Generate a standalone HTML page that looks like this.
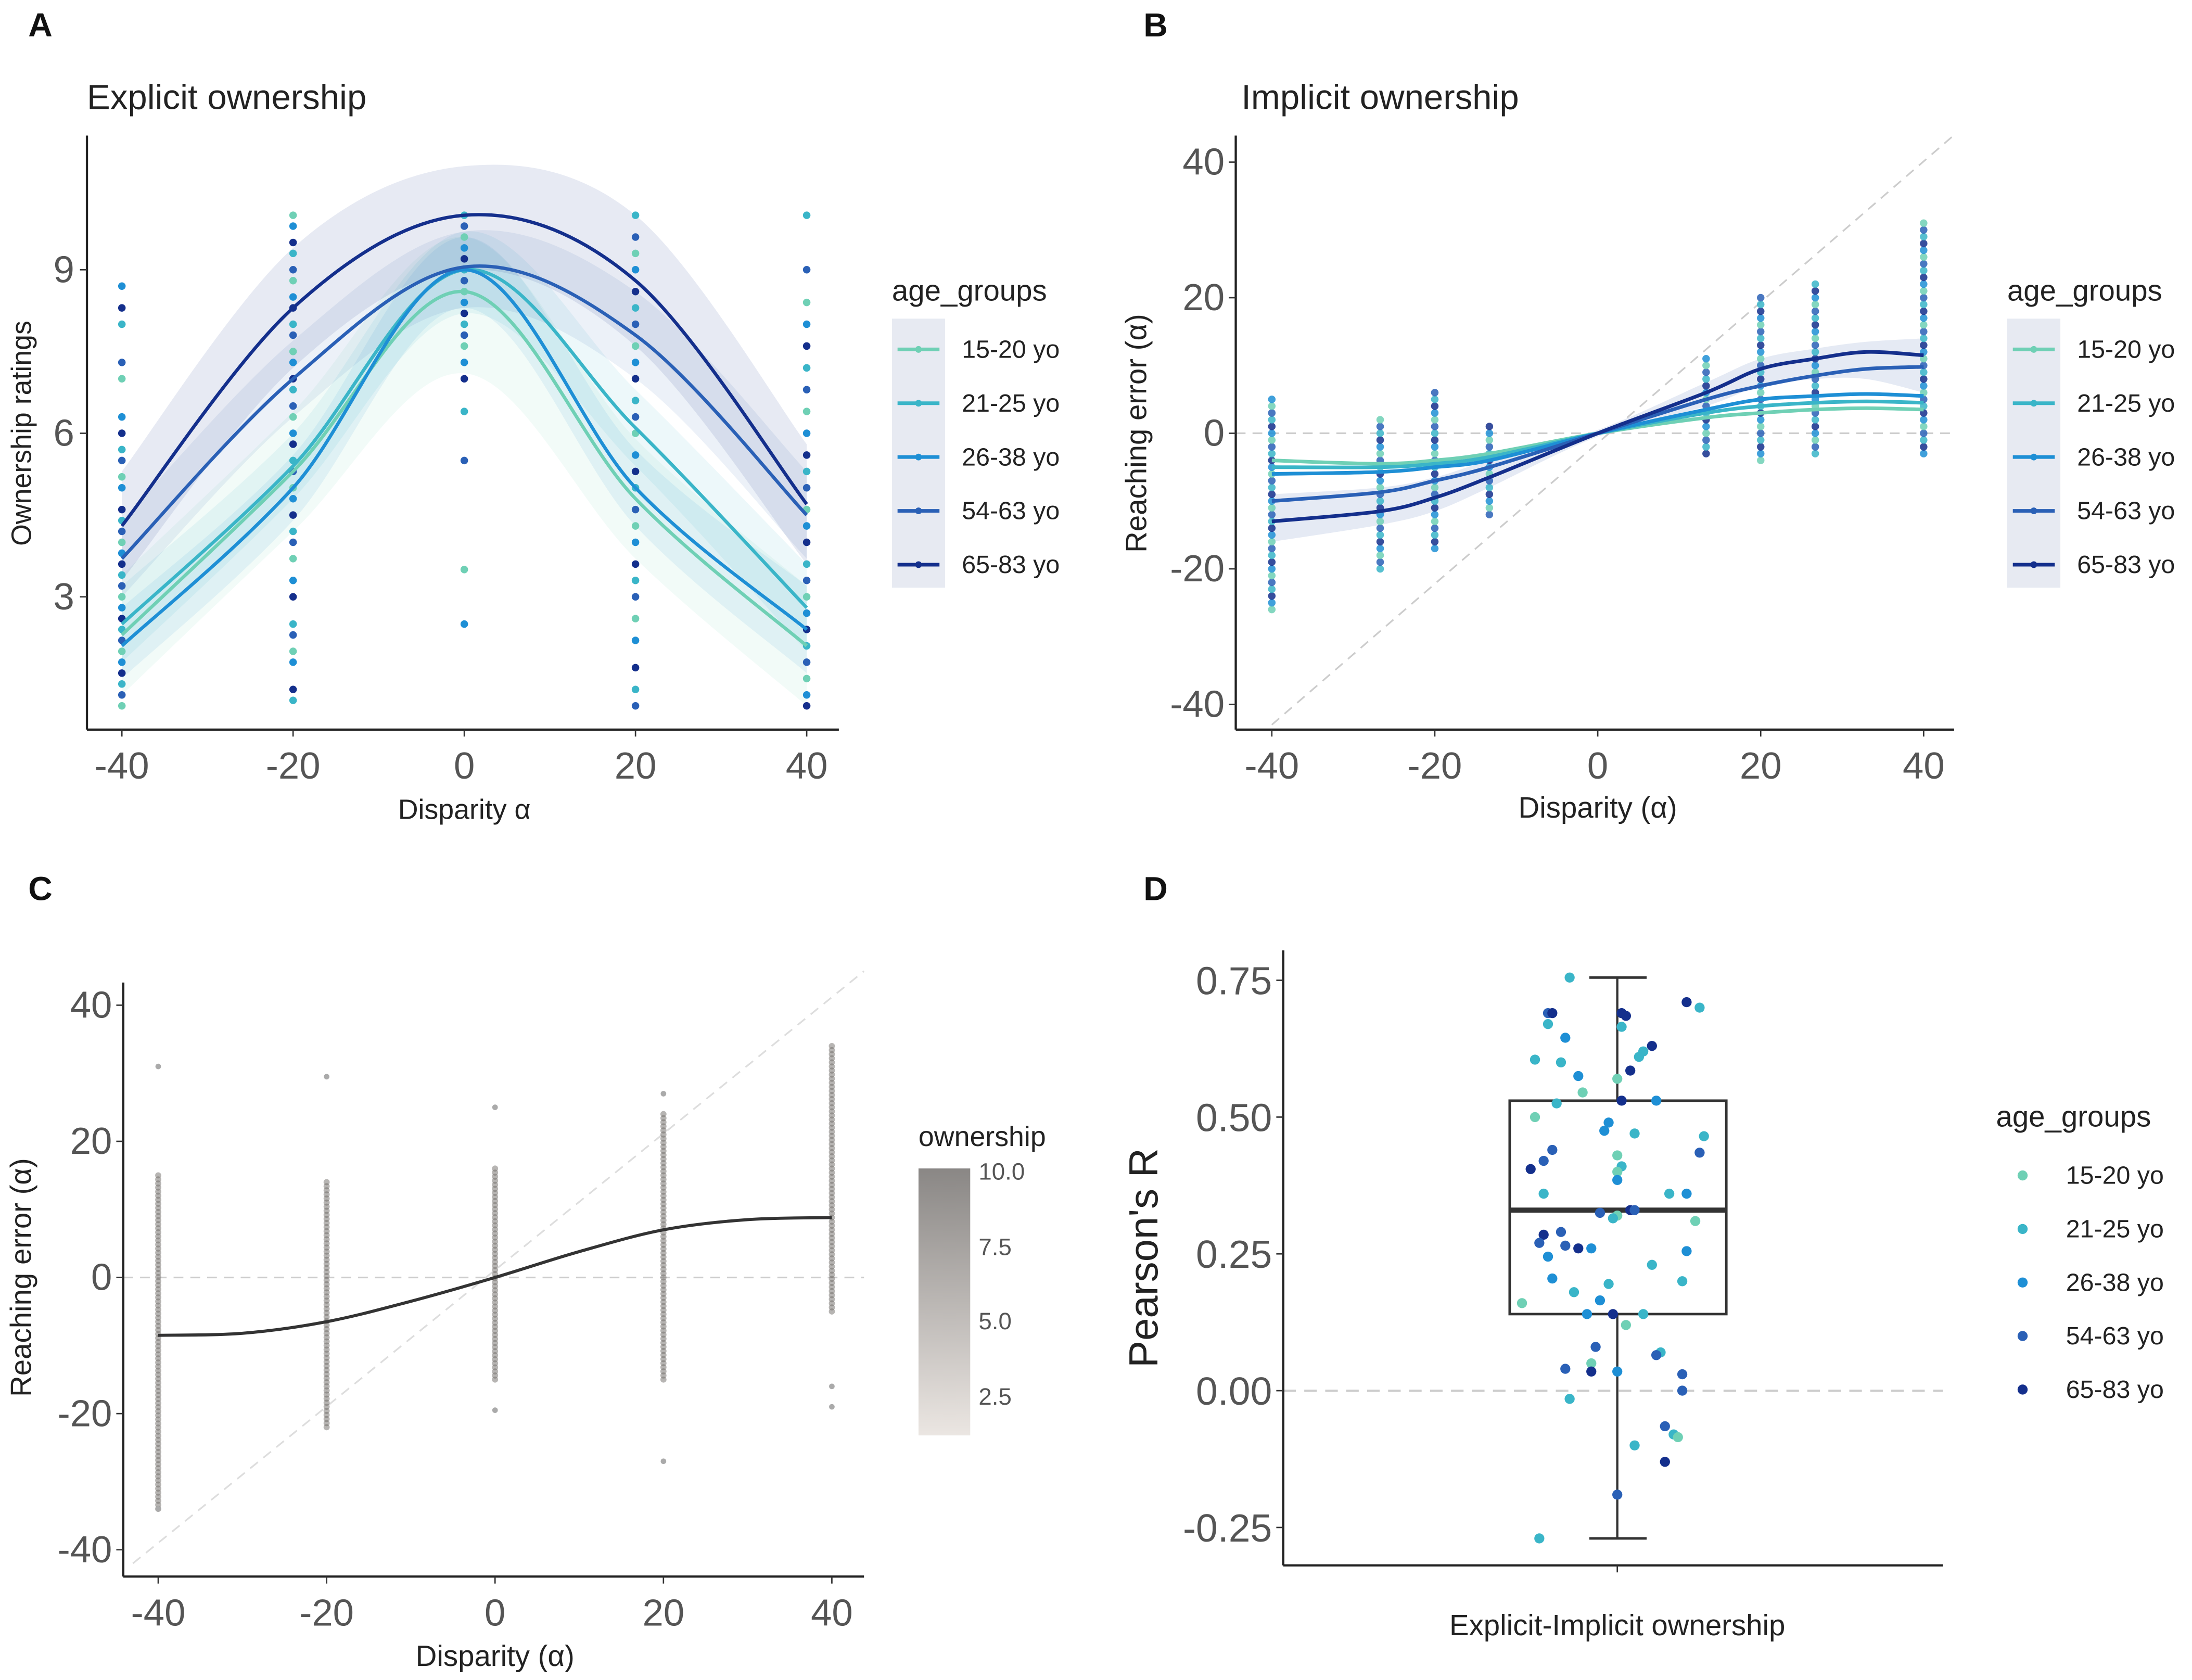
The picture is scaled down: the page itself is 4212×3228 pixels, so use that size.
<!DOCTYPE html>
<html><head><meta charset="utf-8"><style>
html,body{margin:0;padding:0;background:#fff;}
svg{display:block;font-family:"Liberation Sans",Arial,sans-serif;}
</style></head><body>
<svg id="fig" xmlns="http://www.w3.org/2000/svg" width="4212" height="3228" viewBox="0 0 1568 1202">
<rect width="1568" height="1202" fill="#fff"/>
<defs>
<linearGradient id="gradC" x1="0" y1="1" x2="0" y2="0"><stop offset="0" stop-color="#ebe6e2"/><stop offset="1" stop-color="#8a8785"/></linearGradient>
</defs>
<g font-weight="bold" font-size="24" fill="#111">
<text x="20" y="26">A</text>
<text x="818" y="26">B</text>
<text x="20" y="644">C</text>
<text x="818" y="644">D</text>
</g>
<text x="62" y="78" font-size="25" fill="#222">Explicit ownership</text>
<text x="888" y="78" font-size="25" fill="#222">Implicit ownership</text>
<g id="root"></g>
</svg>
<script>
const NS="http://www.w3.org/2000/svg";
const root=document.getElementById('root');
function mk(tag,attrs,parent){const e=document.createElementNS(NS,tag);for(const k in attrs)e.setAttribute(k,attrs[k]);(parent||root).appendChild(e);return e;}
function smooth(pts){let d='M'+pts[0][0]+','+pts[0][1];for(let i=0;i<pts.length-1;i++){const p0=pts[i-1]||pts[i],p1=pts[i],p2=pts[i+1],p3=pts[i+2]||p2;const c1=[p1[0]+(p2[0]-p0[0])/6,p1[1]+(p2[1]-p0[1])/6],c2=[p2[0]-(p3[0]-p1[0])/6,p2[1]-(p3[1]-p1[1])/6];d+=' C'+c1+' '+c2+' '+p2;}return d;}

/* ---------- data ---------- */
const groups=['15-20 yo','21-25 yo','26-38 yo','54-63 yo','65-83 yo'];
const groupColors=['#6fd0b5','#3ab5c8','#1e8fd5','#2a60b6','#142f8c'];

// Panel A
const aX=[-40,-20,0,20,40];
const aMean=[[2.3,5.3,8.6,4.8,2.1],[2.5,5.4,9.0,6.1,2.8],[2.1,5.0,9.0,5.0,2.4],[3.7,7.0,9.05,7.8,4.5],[4.3,8.3,10.0,8.8,4.7]];
const aLow=[[1.2,4.2,7.1,3.7,1.0],[1.8,4.8,8.2,5.4,2.0],[1.5,4.4,8.3,4.3,1.6],[3.0,6.3,8.3,7.0,3.7],[3.3,7.2,9.0,7.6,3.6]];
const aHigh=[[3.4,6.4,9.6,5.9,3.2],[3.2,6.0,9.7,6.8,3.6],[2.8,5.6,9.6,5.7,3.2],[4.4,7.7,9.7,8.6,5.3],[5.3,9.4,10.9,10.0,5.8]];
const aDots=[
 [1,1.2,1.4,1.6,1.8,2,2.2,2.4,2.6,2.8,3,3.2,3.4,3.6,3.8,4,4.2,4.4,4.6,5,5.2,5.5,5.7,6,6.3,7,7.3,8,8.3,8.7],
 [1.1,1.3,1.8,2,2.3,2.5,3,3.3,3.7,4,4.2,4.5,4.8,5,5.3,5.5,5.8,6,6.3,6.5,6.8,7,7.3,7.5,7.8,8,8.3,8.5,8.8,9,9.3,9.5,9.8,10],
 [2.5,3.5,5.5,6.4,7,7.3,7.6,7.8,8,8.2,8.4,8.6,8.8,9,9.2,9.4,9.6,9.8,10],
 [1,1.3,1.7,2.2,2.6,3,3.3,3.6,4,4.3,4.6,5,5.3,5.6,6,6.3,6.6,7,7.3,7.6,8,8.3,8.6,9,9.3,9.6,10],
 [1,1.2,1.5,1.8,2.1,2.4,2.7,3,3.3,3.6,4,4.3,4.6,5,5.3,5.6,6,6.4,6.8,7.2,7.6,8,8.4,9,10]];
const aYTicks=[3,6,9];

// Panel B
const bX=[-40,-26.7,-20,-13.3,0,13.3,20,26.7,33,40];
const bMean=[[-4,-4.5,-4,-3,0,2.3,3,3.5,3.7,3.5],[-5,-5,-4.5,-3.5,0,3,4,4.5,4.7,4.5],[-6,-5.7,-5,-4,0,3.5,5,5.5,5.8,5.5],[-10,-8.7,-7,-5,0,5,7,8.5,9.5,9.8],[-13,-11.5,-9.5,-6.5,0,6,9.5,11,12,11.5]];
const bBandLow=[-16,-13.5,-11.5,-8,-0.5,4,7,8,8,6];
const bBandHigh=[-9,-8,-6.5,-4,0.5,7.5,11,12.5,13.5,14];
const bColX=[-40,-26.7,-20,-13.3,13.3,20,26.7,40];
const bColMin=[-26,-20,-17,-12,-3,-4,-3,-3];
const bColMax=[5,2,6,1,11,20,22,31];
const bTicks=[-40,-20,0,20,40];

// Panel C
const cX=[-40,-30,-20,-10,0,10,20,30,40];
const cFit=[-8.5,-8.2,-6.5,-3.5,0,3.8,7,8.5,8.8];
const cColX=[-40,-20,0,20,40];
const cDenseMin=[-34,-22,-15,-15,-5];
const cDenseMax=[15,14,16,24,34];
const cOutliers=[[31,-34],[29.5],[25,-19.5],[27,-27],[-19,-16]];

// Panel D
const dQ=[-0.27,0.14,0.33,0.53,0.755];
const dVals=[0.755,0.70,0.71,0.69,0.69,0.69,0.685,0.67,0.665,0.645,0.63,0.62,0.61,0.605,0.60,0.585,0.575,0.57,0.545,0.53,0.53,0.525,0.50,0.49,0.475,0.47,0.465,0.44,0.435,0.43,0.42,0.41,0.405,0.40,0.385,0.36,0.36,0.36,0.33,0.33,0.325,0.32,0.315,0.31,0.29,0.285,0.27,0.265,0.26,0.26,0.255,0.245,0.23,0.205,0.20,0.195,0.18,0.165,0.16,0.14,0.14,0.14,0.12,0.08,0.07,0.065,0.05,0.04,0.035,0.035,0.03,0.0,-0.015,-0.065,-0.08,-0.085,-0.10,-0.13,-0.19,-0.27];
const dJit=[-0.55,0.95,0.8,-0.8,-0.75,0.05,0.1,-0.8,0.05,-0.6,0.4,0.3,0.25,-0.95,-0.65,0.15,-0.45,0.0,-0.4,0.05,0.45,-0.7,-0.95,-0.1,-0.15,0.2,1.0,-0.75,0.95,0.0,-0.85,0.05,-1.0,0.0,0.0,-0.85,0.6,0.8,0.15,0.2,-0.2,0.0,-0.05,0.9,-0.65,-0.85,-0.9,-0.6,-0.45,-0.3,0.8,-0.8,0.4,-0.75,0.75,-0.1,-0.5,-0.2,-1.1,0.3,-0.35,-0.05,0.1,-0.25,0.5,0.45,-0.3,-0.6,0.0,-0.3,0.75,0.75,-0.55,0.55,0.65,0.7,0.2,0.55,0.0,-0.9];
const dGrp=[1,1,4,3,4,4,4,1,1,2,4,1,1,1,1,4,2,0,0,4,2,1,0,2,2,1,1,3,3,0,3,1,4,0,2,1,1,2,4,3,3,0,1,0,3,4,3,3,4,2,2,2,1,2,1,1,1,2,0,1,2,4,0,3,1,3,0,3,2,4,3,3,1,3,1,0,1,4,3,1];
const dTicks=[-0.25,0,0.25,0.5,0.75];
const dTickLabels=['-0.25','0.00','0.25','0.50','0.75'];

/* ---------- scales ---------- */
const axA={x:v=>332+v*6.125,y:v=>193+(9-v)*39};
const axB={x:v=>1143+v*5.83,y:v=>310-v*4.85};
const axC={x:v=>354+v*6.025,y:v=>914-v*4.87};
const axD={y:v=>995-v*391.5,cx:1157};

function axes(x0,y0,x1,y1,name){
 const l1=mk('line',{x1:x0,y1:y0,x2:x0,y2:y1,stroke:'#222','stroke-width':1.6});
 
 
 const l2=mk('line',{x1:x0,y1:y1,x2:x1,y2:y1,stroke:'#222','stroke-width':1.6});
 
 
}
function tickLabel(x,y,txt,anchor,size,name){
 const t=mk('text',{x:x,y:y,'text-anchor':anchor,'font-size':size,fill:'#555'});t.textContent=txt;
 
 
}
function label(x,y,txt,size,rot,name,anchor){
 const t=mk('text',{x:x,y:y,'text-anchor':anchor||'middle','font-size':size,fill:'#222'});
 if(rot)t.setAttribute('transform','rotate(-90 '+x+' '+y+')');
 t.textContent=txt;
 
 
}

/* ---------- Panel A ---------- */
for(let g=0;g<5;g++){
 const up=aX.map((v,i)=>[axA.x(v),axA.y(aHigh[g][i])]);
 const lo=aX.map((v,i)=>[axA.x(v),axA.y(aLow[g][i])]).reverse();
 const d=smooth(up)+' L'+lo[0]+' '+smooth(lo).slice(1)+' Z';
 const p=mk('path',{d:d,fill:groupColors[g],'fill-opacity':g==4?0.1:0.09,stroke:'none'});
 
 
}
aX.forEach((xv,c)=>{aDots[c].forEach((v,i)=>{
 const ci=(i*3+c)%5;
 const dot=mk('circle',{cx:axA.x(xv),cy:axA.y(v),r:2.7,fill:groupColors[ci]});
 
 
});});
for(let g=0;g<5;g++){
 const pts=aX.map((v,i)=>[axA.x(v),axA.y(aMean[g][i])]);
 const p=mk('path',{d:smooth(pts),fill:'none',stroke:groupColors[g],'stroke-width':2.4});
 
 
}
axes(62,97,600,522,'panel-a');
aX.forEach(v=>{mk('line',{x1:axA.x(v),y1:522,x2:axA.x(v),y2:527,stroke:'#333'});tickLabel(axA.x(v),557,String(v),'middle',27,'x-tick-a');});
aYTicks.forEach(v=>{mk('line',{x1:57,y1:axA.y(v),x2:62,y2:axA.y(v),stroke:'#333'});tickLabel(53,axA.y(v)+9,String(v),'end',27,'y-tick-a');});
label(332,586,'Disparity α',20,false,'x-axis-title-a');
label(22,310,'Ownership ratings',20,true,'y-axis-title-a');

/* ---------- Panel B ---------- */
mk('line',{x1:axB.x(-40),y1:axB.y(-43),x2:1398,y2:axB.y(44),stroke:'#ccc','stroke-dasharray':'7,5','stroke-width':1.2});
mk('line',{x1:884,y1:axB.y(0),x2:1398,y2:axB.y(0),stroke:'#ccc','stroke-dasharray':'7,5','stroke-width':1.2});
{
 const up=bX.map((v,i)=>[axB.x(v),axB.y(bBandHigh[i])]);
 const lo=bX.map((v,i)=>[axB.x(v),axB.y(bBandLow[i])]).reverse();
 const p=mk('path',{d:smooth(up)+' L'+lo[0]+' '+smooth(lo).slice(1)+' Z',fill:'#2a4fa8','fill-opacity':0.12});
 
 
}
bColX.forEach((xv,c)=>{
 const n=Math.round((bColMax[c]-bColMin[c])/1.0);
 for(let i=0;i<=n;i++){
  const v=bColMin[c]+(bColMax[c]-bColMin[c])*i/n;
  const ci=(i*2+c)%5;
  const dot=mk('circle',{cx:axB.x(xv),cy:axB.y(v),r:2.7,fill:groupColors[ci],'fill-opacity':0.85});
  
  
 }
});
for(let g=0;g<5;g++){
 const pts=bX.map((v,i)=>[axB.x(v),axB.y(bMean[g][i])]);
 const p=mk('path',{d:smooth(pts),fill:'none',stroke:groupColors[g],'stroke-width':2.6});
 
 
}
axes(884,97,1398,522,'panel-b');
bTicks.forEach(v=>{mk('line',{x1:axB.x(v),y1:522,x2:axB.x(v),y2:527,stroke:'#333'});tickLabel(axB.x(v),557,String(v),'middle',27,'x-tick-b');});
bTicks.forEach(v=>{mk('line',{x1:879,y1:axB.y(v),x2:884,y2:axB.y(v),stroke:'#333'});tickLabel(876,axB.y(v)+9,String(v),'end',27,'y-tick-b');});
label(1143,585,'Disparity (α)',21,false,'x-axis-title-b');
label(820,310,'Reaching error (α)',21,true,'y-axis-title-b');

/* ---------- Panel C ---------- */
mk('line',{x1:axC.x(-43),y1:axC.y(-42),x2:618,y2:axC.y(45),stroke:'#ddd','stroke-dasharray':'7,5','stroke-width':1.2});
mk('line',{x1:88,y1:axC.y(0),x2:618,y2:axC.y(0),stroke:'#ccc','stroke-dasharray':'7,5','stroke-width':1.2});
cColX.forEach((xv,c)=>{
 const n=Math.round((cDenseMax[c]-cDenseMin[c])/0.6);
 for(let i=0;i<=n;i++){
  const v=cDenseMin[c]+(cDenseMax[c]-cDenseMin[c])*i/n;
  const dot=mk('circle',{cx:axC.x(xv),cy:axC.y(v),r:2.2,fill:'#6f6b68','fill-opacity':0.5});
  
  
 }
 cOutliers[c].forEach(v=>{
  const dot=mk('circle',{cx:axC.x(xv),cy:axC.y(v),r:2.0,fill:'#aaa'});
  
  
 });
});
{
 const pts=cX.map((v,i)=>[axC.x(v),axC.y(cFit[i])]);
 const p=mk('path',{d:smooth(pts),fill:'none',stroke:'#333','stroke-width':2.2});
 
 
}
axes(88,703,618,1128,'panel-c');
cColX.forEach(v=>{mk('line',{x1:axC.x(v),y1:1128,x2:axC.x(v),y2:1133,stroke:'#333'});tickLabel(axC.x(v),1163,String(v),'middle',27,'x-tick-c');});
[-40,-20,0,20,40].forEach(v=>{mk('line',{x1:83,y1:axC.y(v),x2:88,y2:axC.y(v),stroke:'#333'});tickLabel(80,axC.y(v)+9,String(v),'end',27,'y-tick-c');});
label(354,1192,'Disparity (α)',21,false,'x-axis-title-c');
label(22,914,'Reaching error (α)',21,true,'y-axis-title-c');
{
 const r=mk('rect',{x:657,y:836,width:37,height:191,fill:'url(#gradC)'});
 
 
 label(657,820,'ownership',20,false,'colorbar-title','start');
 [['10.0',839],['7.5',893],['5.0',946],['2.5',1000]].forEach(a=>{tickLabel(700,a[1]+5,a[0],'start',17,'colorbar-tick');});
}

/* ---------- Panel D ---------- */
mk('line',{x1:918,y1:axD.y(0),x2:1390,y2:axD.y(0),stroke:'#ccc','stroke-dasharray':'9,6','stroke-width':1.5});
{
 const g=mk('g',{});
 
 
 mk('line',{x1:axD.cx,y1:axD.y(dQ[0]),x2:axD.cx,y2:axD.y(dQ[1]),stroke:'#333','stroke-width':1.6},g);
 mk('line',{x1:axD.cx,y1:axD.y(dQ[3]),x2:axD.cx,y2:axD.y(dQ[4]),stroke:'#333','stroke-width':1.6},g);
 mk('line',{x1:1137,y1:axD.y(dQ[0]),x2:1178,y2:axD.y(dQ[0]),stroke:'#333','stroke-width':1.8},g);
 mk('line',{x1:1137,y1:axD.y(dQ[4]),x2:1178,y2:axD.y(dQ[4]),stroke:'#333','stroke-width':1.8},g);
 mk('rect',{x:1080,y:axD.y(dQ[3]),width:155,height:axD.y(dQ[1])-axD.y(dQ[3]),fill:'none',stroke:'#333','stroke-width':1.8},g);
 mk('line',{x1:1080,y1:axD.y(dQ[2]),x2:1235,y2:axD.y(dQ[2]),stroke:'#333','stroke-width':3.6},g);
}
dVals.forEach((v,i)=>{
 const dot=mk('circle',{cx:axD.cx+dJit[i]*62,cy:axD.y(v),r:3.6,fill:groupColors[dGrp[i]]});
 
 
});
axes(918,680,1390,1120,'panel-d');
mk('line',{x1:axD.cx,y1:1120,x2:axD.cx,y2:1125,stroke:'#333'});
dTicks.forEach((v,i)=>{mk('line',{x1:913,y1:axD.y(v),x2:918,y2:axD.y(v),stroke:'#333'});tickLabel(910,axD.y(v)+10,dTickLabels[i],'end',28,'y-tick-d');});
label(1157,1170,'Explicit-Implicit ownership',21,false,'x-axis-title-d');
label(828,900,"Pearson's R",29,true,'y-axis-title-d');

/* ---------- Legends ---------- */
function legend(x,y0,step,title,band,name,dotOnly,tx){
 label(x,y0-35,title,21,false,name+'-title','start');
 if(band){const r=mk('rect',{x:x,y:y0-22,width:38,height:step*5,fill:'#dfe3ee','fill-opacity':0.75});}
 groups.forEach((gname,i)=>{
  const yy=y0+i*step;
  const g=mk('g',{});
  
  
  if(!dotOnly) mk('line',{x1:x+4,y1:yy,x2:x+34,y2:yy,stroke:groupColors[i],'stroke-width':2.6},g);
  mk('circle',{cx:x+19,cy:yy,r:dotOnly?3.6:2.4,fill:groupColors[i]},g);
  const t=mk('text',{x:tx,y:yy+6,'font-size':18,fill:'#222'},g);t.textContent=gname;
 });
}
legend(638,250,38.5,'age_groups',true,'legend-a',false,688);
legend(1436,250,38.5,'age_groups',true,'legend-b',false,1486);
legend(1428,841,38.3,'age_groups',false,'legend-d',true,1478);
</script>
</body></html>
